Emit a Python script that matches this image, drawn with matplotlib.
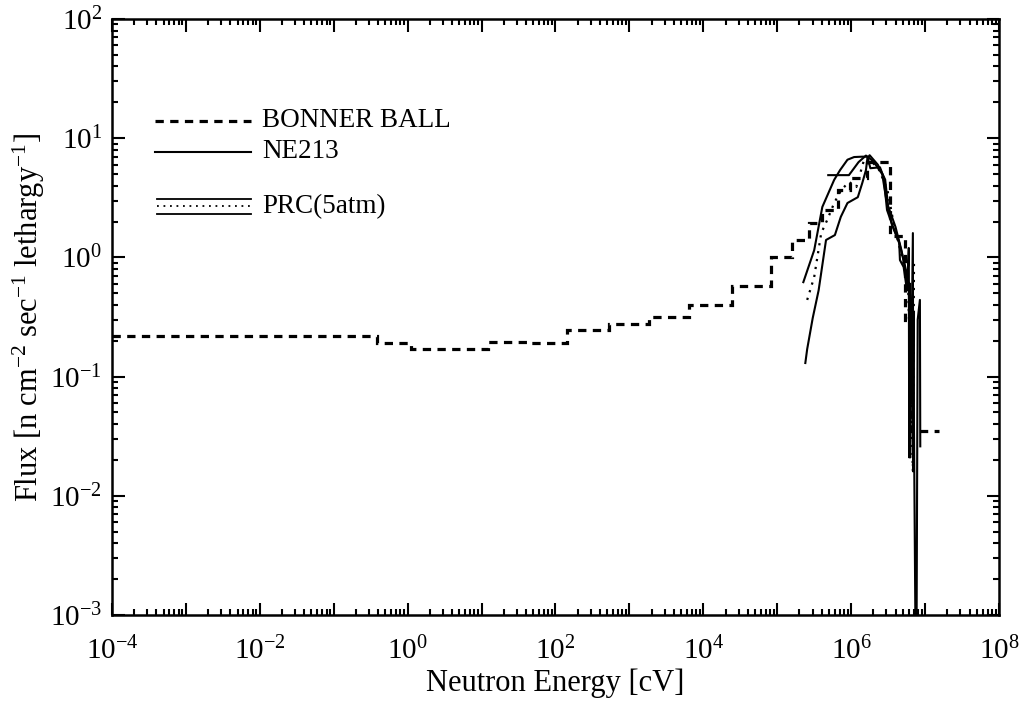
import numpy as np
import matplotlib
matplotlib.use("Agg")
import matplotlib.pyplot as plt
from matplotlib.ticker import LogLocator, FuncFormatter, NullFormatter

plt.rcParams['font.family'] = ['Liberation Serif', 'DejaVu Serif']
plt.rcParams['mathtext.fontset'] = 'custom'
plt.rcParams['mathtext.rm'] = 'Liberation Serif'
plt.rcParams['mathtext.it'] = 'Liberation Serif:italic'
plt.rcParams['mathtext.bf'] = 'Liberation Serif:bold'

# Bonner ball unfolded spectrum: bin edges (log10 eV) and flux per lethargy
bonner_edges_log = [-4.0, -0.42, 0.05, 1.09, 1.61, 2.16, 2.73, 3.27, 3.81, 4.39,
                    4.92, 5.20, 5.43, 5.60, 5.82, 5.98, 6.21, 6.53, 6.73, 6.81, 7.19]
bonner_flux = [0.22, 0.19, 0.17, 0.195, 0.19, 0.245, 0.275, 0.316, 0.40, 0.58,
               1.0, 1.4, 1.95, 2.5, 3.7, 4.6, 6.3, 1.5, 0.30, 0.035]

# NE213 liquid scintillator spectrum
ne213_log_e = [5.353, 5.50, 5.61, 5.77, 5.85, 5.95, 6.04, 6.15, 6.22, 6.26, 6.39,
               6.44, 6.485, 6.58, 6.65, 6.66, 6.71, 6.755, 6.78, 6.785, 6.80]
ne213_flux = [0.62, 1.15, 2.65, 4.47, 5.4, 6.6, 6.95, 7.0, 7.0, 5.6, 5.7,
              4.7, 2.5, 1.7, 1.32, 0.95, 0.83, 0.53, 1.2, 0.021, 0.6]

# Proton recoil counter (5 atm): central value and error band
prc_mid_log_e = [5.405, 5.50, 5.595, 5.676, 5.77, 5.865, 5.97, 6.07, 6.135, 6.175,
                 6.24, 6.38, 6.49, 6.58, 6.69, 6.77, 6.835, 6.85]
prc_mid_flux = [0.44, 0.685, 1.6, 2.06, 2.86, 3.67, 4.3, 3.9, 5.4, 6.6,
                6.8, 5.4, 3.7, 1.85, 1.0, 0.6, 0.016, 0.9]

prc_low_log_e = [5.38, 5.405, 5.48, 5.56, 5.66, 5.78, 5.86, 5.95, 6.09, 6.15, 6.20,
                 6.22, 6.25, 6.36, 6.46, 6.50, 6.60, 6.68, 6.73, 6.81, 6.84, 6.88,
                 6.90, 6.93, 6.935]
prc_low_flux = [0.13, 0.17, 0.31, 0.53, 1.4, 1.54, 2.19, 2.86, 3.2, 4.2, 5.4,
                6.8, 7.2, 6.0, 4.5, 2.7, 1.8, 1.15, 0.8, 0.45, 0.25, 1e-4,
                0.3, 0.44, 0.026]

prc_up_log_e = [5.69, 5.97, 6.10, 6.20, 6.30, 6.42, 6.47, 6.55, 6.64, 6.72, 6.79,
                6.80, 6.835, 6.84, 6.85]
prc_up_flux = [4.9, 4.9, 6.3, 7.15, 6.4, 5.0, 3.2, 1.9, 1.4, 0.9, 0.55,
               0.021, 1.6, 0.016, 0.35]

x_tick_exps = list(range(-4, 9))
y_tick_exps = list(range(-3, 3))

fig = plt.figure(figsize=(10.30, 7.04), dpi=100)
ax = fig.add_axes([0.1087, 0.1264, 0.8612, 0.8466])

lw_data = 1.5
ax.stairs(bonner_flux, 10.0 ** np.array(bonner_edges_log), baseline=None,
          color='black', lw=2.3, linestyle=(0, (2.6, 2.0)))
ax.plot(10.0 ** np.array(ne213_log_e), ne213_flux, color='black', lw=lw_data)
ax.plot(10.0 ** np.array(prc_up_log_e), prc_up_flux, color='black', lw=lw_data)
ax.plot(10.0 ** np.array(prc_mid_log_e), prc_mid_flux, color='black', lw=1.6,
        linestyle=(0, (1, 2.6)))
ax.plot(10.0 ** np.array(prc_low_log_e), prc_low_flux, color='black', lw=lw_data)

ax.set_xscale('log')
ax.set_yscale('log')
ax.set_xlim(10.0 ** x_tick_exps[0], 10.0 ** x_tick_exps[-1])
ax.set_ylim(10.0 ** y_tick_exps[0], 10.0 ** y_tick_exps[-1])

ax.xaxis.set_major_locator(LogLocator(base=10, numticks=20))
ax.yaxis.set_major_locator(LogLocator(base=10, numticks=20))
ax.xaxis.set_minor_locator(LogLocator(base=10, subs=np.arange(2, 10), numticks=40))
ax.yaxis.set_minor_locator(LogLocator(base=10, subs=np.arange(2, 10), numticks=40))
ax.xaxis.set_minor_formatter(NullFormatter())
ax.yaxis.set_minor_formatter(NullFormatter())


def exp_label(v, _pos, every=1):
    e = int(round(np.log10(v)))
    if e % every:
        return ''
    return r'$\mathregular{10^{%d}}$' % e


ax.xaxis.set_major_formatter(FuncFormatter(lambda v, p: exp_label(v, p, 2)))
ax.yaxis.set_major_formatter(FuncFormatter(lambda v, p: exp_label(v, p, 1)))

ax.tick_params(which='both', direction='in', top=True, right=True, width=1.5,
               colors='black')
ax.tick_params(which='major', length=9, labelsize=21)
ax.tick_params(axis='x', which='major', pad=16)
ax.tick_params(axis='y', which='major', pad=7)
ax.tick_params(which='minor', length=4)
for sp in ax.spines.values():
    sp.set_linewidth(1.8)

ax.set_xlabel('Neutron Energy [cV]', fontsize=22, labelpad=2)
ax.set_ylabel(r'Flux [n cm$^{\mathregular{-2}}$ sec$^{\mathregular{-1}}$ lethargy$^{\mathregular{-1}}$]',
              fontsize=22)
ax.yaxis.set_label_coords(-0.073, 0.5)

# Legend drawn by hand in axes coordinates
tr = ax.transAxes
x0, x1, xt = 0.049, 0.157, 0.169
ax.plot([x0, x1], [0.829, 0.829], transform=tr, color='black', lw=2.3,
        linestyle=(0, (2.6, 2.0)))
ax.text(xt, 0.829, 'BONNER BALL', transform=tr, fontsize=19.5, va='center')
ax.plot([x0, x1], [0.777, 0.777], transform=tr, color='black', lw=lw_data)
ax.text(xt, 0.777, 'NE213', transform=tr, fontsize=19.5, va='center')
ax.plot([x0 + 0.002, x1], [0.698, 0.698], transform=tr, color='black', lw=1.3)
ax.plot([x0 + 0.002, x1], [0.686, 0.686], transform=tr, color='black', lw=1.3,
        linestyle=(0, (1, 2.6)))
ax.plot([x0 + 0.002, x1], [0.673, 0.673], transform=tr, color='black', lw=1.3)
ax.text(xt, 0.686, 'PRC(5atm)', transform=tr, fontsize=19.5, va='center')

fig.savefig('out.png', dpi=100)
